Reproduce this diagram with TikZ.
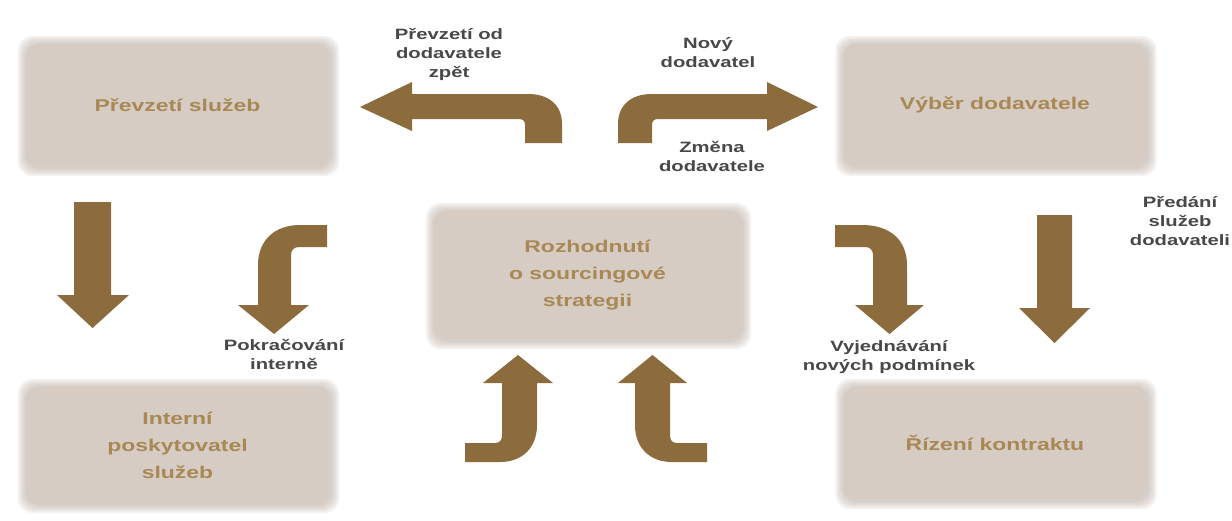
\documentclass[tikz,border=0pt]{standalone}
\usepackage{fontspec}
\setmainfont{Liberation Sans}[FakeStretch=1.35]

\definecolor{arrowc}{RGB}{140,108,60}
\definecolor{boxfill}{RGB}{214,204,195}
\definecolor{boxedge}{RGB}{190,176,165}
\definecolor{boxtext}{RGB}{168,136,84}
\definecolor{labelc}{RGB}{72,72,72}

\pgfdeclarelayer{paper}
\pgfdeclarelayer{glow}
\pgfsetlayers{paper,glow,main}

\tikzset{
  stagebox/.style={rounded corners=13pt, fill=boxfill, minimum width=303pt,
    minimum height=122pt, inner sep=0pt, align=center, text=boxtext,
    font=\fontsize{17}{27}\selectfont\bfseries},
  lbl/.style={align=center, text=labelc, inner sep=0pt,
    font=\fontsize{15}{19}\selectfont\bfseries},
  blockarrow/.style={fill=arrowc, draw=none},
}

\begin{document}
\begin{tikzpicture}[x=1pt,y=-1pt]
\begin{pgfonlayer}{paper}
\fill[white] (0,0) rectangle (1232,520);
\end{pgfonlayer}
\useasboundingbox (0,0) rectangle (1232,520);

% the five stages
\node[stagebox] (prevzeti) at (177.5,105) {Převzetí služeb};
\node[stagebox] (vyber) at (995,105) {Výběr dodavatele};
\node[stagebox, minimum width=307pt, minimum height=128pt] (rozhodnuti) at (587.5,275)
  {Rozhodnutí\\o sourcingové\\strategii};
\node[stagebox, minimum height=116pt] (interni) at (177.5,445)
  {Interní\\poskytovatel\\služeb};
\node[stagebox, minimum height=112pt] (rizeni) at (995,443) {Řízení kontraktu};

% soft edges around the stages
\begin{pgfonlayer}{glow}
\foreach \n in {prevzeti,vyber,rozhodnuti,interni,rizeni}{
  \foreach \k in {1.5,3,...,9}{
    \fill[boxedge, opacity=0.14, rounded corners=15pt]
      ([shift={(-\k+1,-\k+1)}]\n.north west) rectangle ([shift={(\k+1,\k+1)}]\n.south east);
  }
}
\end{pgfonlayer}

% back to the own services (top left)
\fill[blockarrow] (360,107) -- (412,82) -- (412,94) -- (528,94)
  .. controls (550,94) and (562,106) .. (562,124) -- (562,143) -- (525,143)
  -- (525,125) .. controls (525,121) and (523,119) .. (519,119)
  -- (412,119) -- (412,131) -- cycle;
% towards the supplier selection (top right)
\fill[blockarrow] (818,107) -- (767,82) -- (767,94) -- (652,94)
  .. controls (630,94) and (618,106) .. (618,124) -- (618,143) -- (652,143)
  -- (652,125) .. controls (652,121) and (654,119) .. (658,119)
  -- (767,119) -- (767,131) -- cycle;

% straight down arrows
\fill[blockarrow] (74,202) -- (111,202) -- (111,295) -- (129,295) -- (92.5,328)
  -- (57,295) -- (74,295) -- cycle;
\fill[blockarrow] (1037,215) -- (1072,215) -- (1072,308) -- (1090,308) -- (1054.5,343)
  -- (1019,308) -- (1037,308) -- cycle;

% bent arrow continuing internally
\fill[blockarrow] (327,225) -- (300,225) .. controls (275,225) and (258,240) .. (258,265)
  -- (258,305) -- (238,305) -- (274,334) -- (309,305) -- (291,305) -- (291,255)
  .. controls (291,250) and (294,247) .. (299,247) -- (327,247) -- cycle;
% bent arrow towards new terms
\fill[blockarrow] (835,225) -- (862,225) .. controls (890,225) and (907,240) .. (907,265)
  -- (907,305) -- (924,305) -- (889.5,334) -- (855,305) -- (873,305) -- (873,255)
  .. controls (873,250) and (870,247) .. (865,247) -- (835,247) -- cycle;

% two arrows up into the decision
\fill[blockarrow] (518,355) -- (553,383) -- (537,383) -- (537,425)
  .. controls (537,448) and (522,462) .. (500,462) -- (465,462) -- (465,443)
  -- (495,443) .. controls (500,443) and (502,440) .. (502,435)
  -- (502,383) -- (483,383) -- cycle;
\fill[blockarrow] (652.5,355) -- (687,383) -- (670,383) -- (670,435)
  .. controls (670,440) and (672,443) .. (677,443) -- (707,443) -- (707,462)
  -- (672,462) .. controls (650,462) and (635,448) .. (635,425)
  -- (635,383) -- (618,383) -- cycle;

% labels
\node[lbl] (lzpet) at (449,54) {Převzetí od\\dodavatele\\zpět};
\node[lbl] (lnovy) at (708,53) {Nový\\dodavatel};
\node[lbl] (lzmena) at (712,156) {Změna\\dodavatele};
\node[lbl] (lpredani) at (1180,221) {Předání\\služeb\\dodavateli};
\node[lbl] (linterne) at (284,354) {Pokračování\\interně};
\node[lbl] (lpodminky) at (889,357) {Vyjednávání\\nových podmínek};
\end{tikzpicture}
\end{document}
